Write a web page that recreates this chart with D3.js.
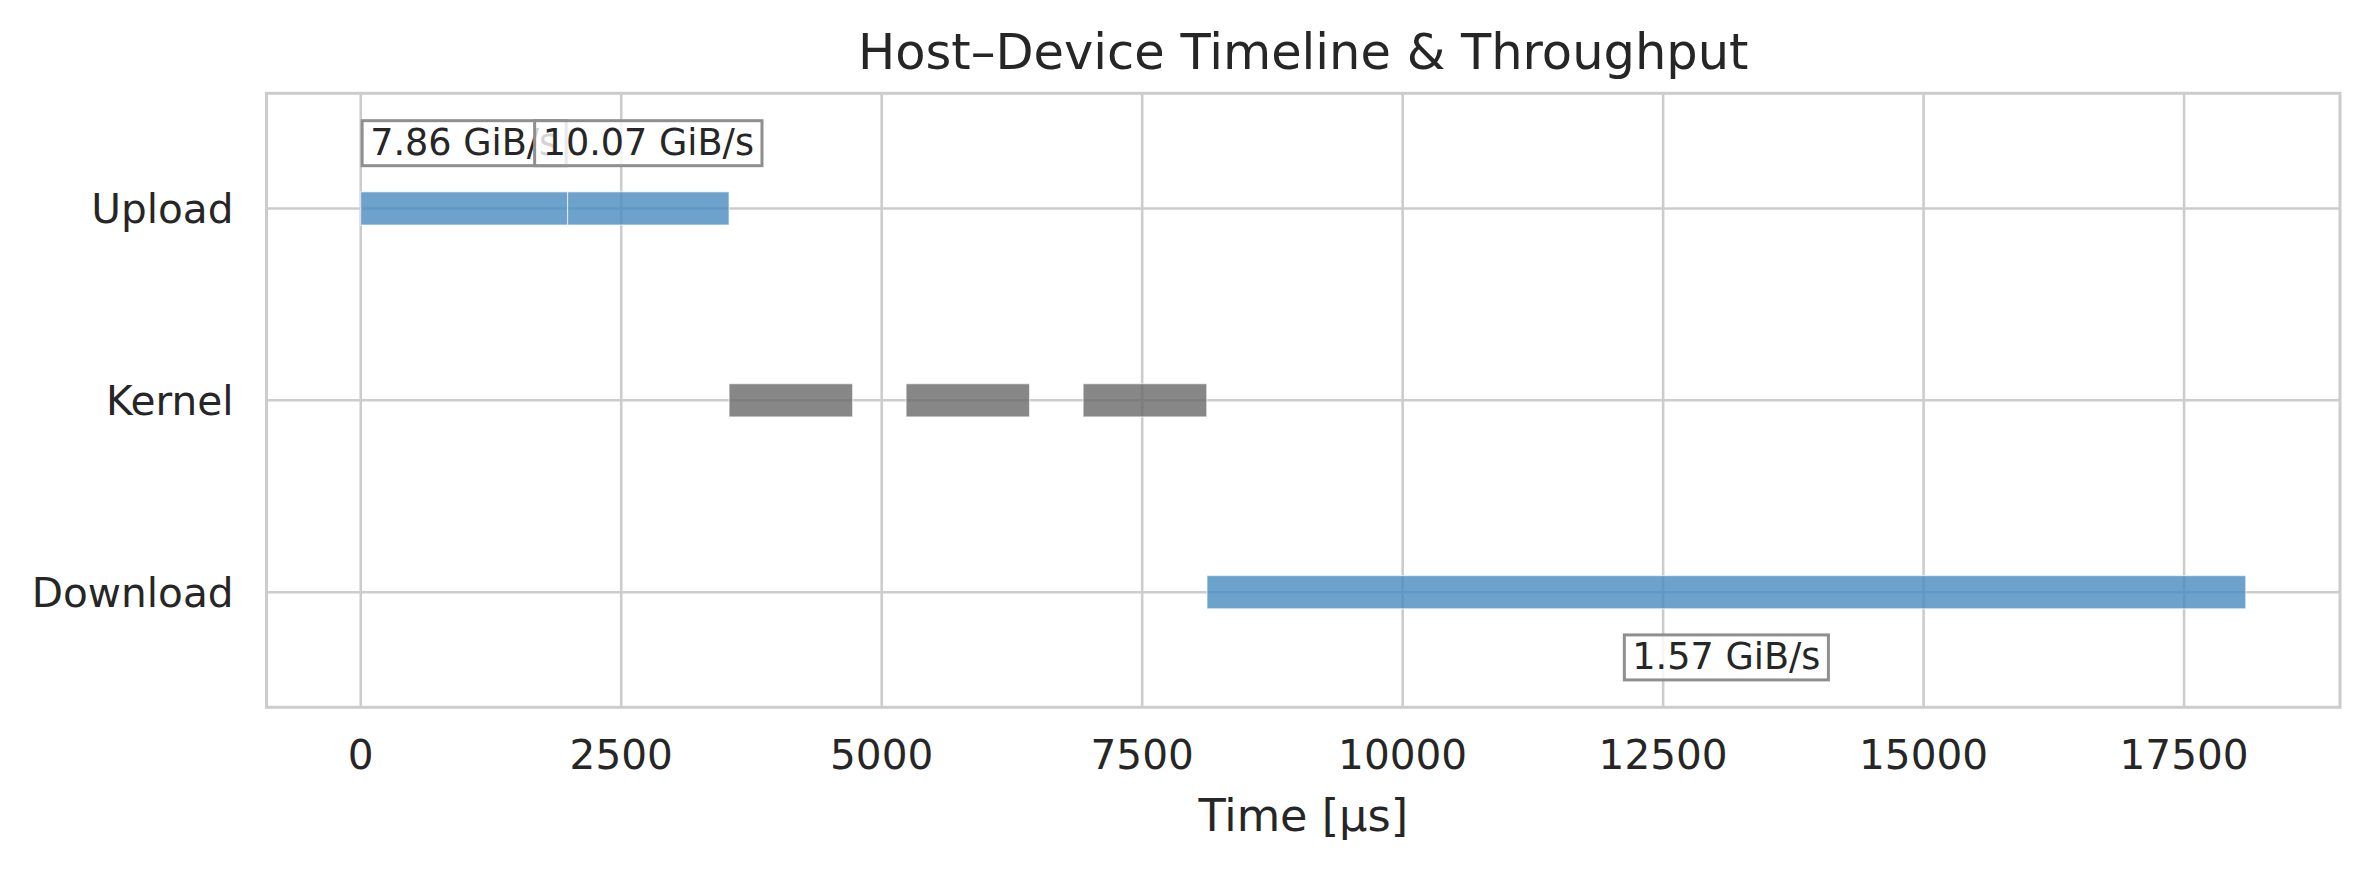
<!DOCTYPE html>
<html>
<head>
<meta charset="utf-8">
<script src="https://cdn.jsdelivr.net/npm/d3@7"></script>
<style>
  html, body { margin: 0; padding: 0; background: #ffffff; }
  svg { display: block; font-family: "DejaVu Sans", sans-serif; }
</style>
</head>
<body>
<svg id="chart" width="2370" height="870"></svg>
<script>
// ---- data ----
const lanes = ["Upload", "Kernel", "Download"];
const uploadStart = [0, 1985];
const uploadEnd = [1985, 3535];
const uploadLabels = ["7.86 GiB/s", "10.07 GiB/s"];
const kernelStart = [3535, 5234, 6933];
const kernelEnd = [4721, 6419, 8120];
const downloadStart = [8122];
const downloadEnd = [18092];
const downloadLabels = ["1.57 GiB/s"];
const xTicks = [0, 2500, 5000, 7500, 10000, 12500, 15000, 17500];
const titleText = "Host\u2013Device Timeline & Throughput";
const xLabelText = "Time [\u00b5s]";

// ---- layout ----
const W = 2370, H = 870;
const m = { left: 266.5, right: 2340, top: 93.3, bottom: 707.3 };
const textColor = "#262626";
const gridColor = "#cccccc";
const blue = "rgb(71,139,191)";
const gray = "rgb(105,105,105)";

const svg = d3.select("#chart");

const xmax = d3.max([...uploadEnd, ...kernelEnd, ...downloadEnd]);
const pad = 0.05 * xmax;
const x = d3.scaleLinear().domain([-pad, xmax + pad]).range([m.left, m.right]);
const y = d3.scaleLinear().domain([-0.6, lanes.length - 1 + 0.6]).range([m.top, m.bottom]);
const barH = 0.173;

// grid
const g = svg.append("g");
g.selectAll("line.vg").data(xTicks).join("line")
  .attr("x1", d => x(d)).attr("x2", d => x(d))
  .attr("y1", m.top).attr("y2", m.bottom)
  .attr("stroke", gridColor).attr("stroke-width", 2.6);
g.selectAll("line.hg").data(lanes).join("line")
  .attr("x1", m.left).attr("x2", m.right)
  .attr("y1", (d, i) => y(i)).attr("y2", (d, i) => y(i))
  .attr("stroke", gridColor).attr("stroke-width", 2.6);

// bars
function bars(starts, ends, lane, color) {
  const data = starts.map((s, i) => ({ s, e: ends[i] }));
  svg.append("g").selectAll("rect").data(data).join("rect")
    .attr("x", d => x(d.s))
    .attr("width", d => x(d.e) - x(d.s))
    .attr("y", y(lane - barH / 2))
    .attr("height", y(lane + barH / 2) - y(lane - barH / 2))
    .attr("fill", color).attr("fill-opacity", 0.8)
    .attr("stroke", "white").attr("stroke-opacity", 0.6).attr("stroke-width", 1.2);
}
bars(uploadStart, uploadEnd, 0, blue);
bars(kernelStart, kernelEnd, 1, gray);
bars(downloadStart, downloadEnd, 2, blue);

// spines
svg.append("rect")
  .attr("x", m.left).attr("y", m.top)
  .attr("width", m.right - m.left).attr("height", m.bottom - m.top)
  .attr("fill", "none").attr("stroke", gridColor).attr("stroke-width", 3);

// annotation labels
const annFs = 36.6;
function labels(starts, ends, texts, lane, off) {
  texts.forEach((t, i) => {
    const cx = x((starts[i] + ends[i]) / 2);
    const cy = y(lane + off);
    const grp = svg.append("g");
    const rect = grp.append("rect");
    const txt = grp.append("text")
      .attr("x", cx).attr("y", cy + 11.5)
      .attr("text-anchor", "middle")
      .attr("font-size", annFs).attr("fill", textColor)
      .text(t);
    const w = txt.node().getComputedTextLength();
    rect.attr("x", cx - w / 2 - 8).attr("width", w + 16)
      .attr("y", cy - 22.5).attr("height", 45)
      .attr("fill", "white").attr("fill-opacity", 0.8)
      .attr("stroke", "#8f8f8f").attr("stroke-width", 3);
  });
}
labels(uploadStart, uploadEnd, uploadLabels, 0, -0.34);
labels(downloadStart, downloadEnd, downloadLabels, 2, 0.34);

// tick labels
const tickFs = 40.6;
svg.append("g").selectAll("text").data(xTicks).join("text")
  .attr("x", d => x(d)).attr("y", 769)
  .attr("text-anchor", "middle").attr("font-size", tickFs).attr("fill", textColor)
  .text(d => d);
svg.append("g").selectAll("text").data(lanes).join("text")
  .attr("x", m.left - 33).attr("y", (d, i) => y(i) + 14.8)
  .attr("text-anchor", "end").attr("font-size", tickFs).attr("fill", textColor)
  .text(d => d);

// axis label & title
svg.append("text")
  .attr("x", (m.left + m.right) / 2).attr("y", 831)
  .attr("text-anchor", "middle").attr("font-size", 44.6).attr("fill", textColor)
  .text(xLabelText);
svg.append("text")
  .attr("x", (m.left + m.right) / 2).attr("y", 69.3)
  .attr("text-anchor", "middle").attr("font-size", 49.5).attr("fill", textColor)
  .text(titleText);
</script>
</body>
</html>
